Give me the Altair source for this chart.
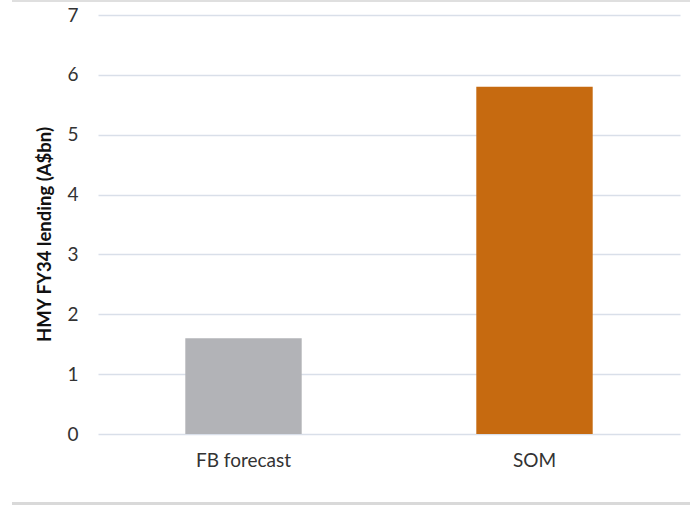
import altair as alt
import pandas as pd

categories = ["FB forecast", "SOM"]
values = [1.6, 5.8]
colors = ["#b2b3b7", "#c66a10"]
y_ticks = [0, 1, 2, 3, 4, 5, 6, 7]

df = pd.DataFrame({"cat": categories, "val": values, "color": colors})

bars = alt.Chart(df).mark_bar().encode(
    x=alt.X("cat:N", sort=categories, title=None,
            scale=alt.Scale(paddingInner=0.6, paddingOuter=0.3),
            axis=alt.Axis(labelAngle=0, labelFontSize=19, labelColor="#333333",
                          labelFont="Lato", labelPadding=17, domain=False, ticks=False)),
    y=alt.Y("val:Q", title="HMY FY34 lending (A$bn)",
            scale=alt.Scale(domain=[0, 7]),
            axis=alt.Axis(values=y_ticks, labelFontSize=19, labelColor="#333333",
                          labelFont="Lato", labelPadding=20, domain=False, ticks=False,
                          gridColor="#d9dfe9", gridWidth=1.5,
                          titleFont="Lato", titleFontSize=18.5, titleFontWeight="bold",
                          titleColor="#111111", titlePadding=12, titleY=219)),
    color=alt.Color("color:N", scale=None),
)

top_line = alt.Chart(df).mark_rule(color="#dcdcdc", strokeWidth=1.5).encode(
    x=alt.value(-86), x2=alt.value(592), y=alt.value(-14)
)
bottom_line = alt.Chart(df).mark_rule(color="#d9d9d9", strokeWidth=3).encode(
    x=alt.value(-86), x2=alt.value(592), y=alt.value(488.5)
)

chart = alt.layer(bars, top_line, bottom_line).properties(
    width=582, height=419,
    padding={"left": 98, "top": 15, "right": 10, "bottom": 72},
    autosize=alt.AutoSizeParams(type="none"),
).configure_view(stroke=None)

chart.save("out.html", embed_options={"renderer": "svg", "actions": False})
